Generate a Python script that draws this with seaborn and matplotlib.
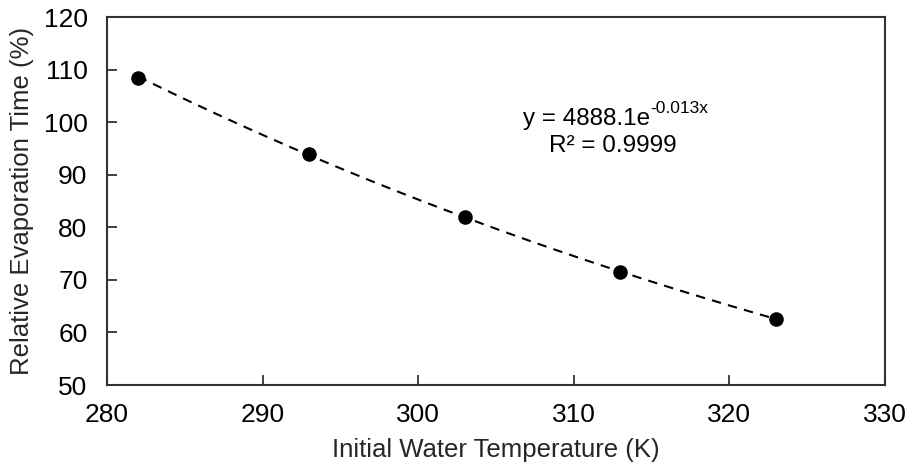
import numpy as np
import pandas as pd
import matplotlib
matplotlib.use("Agg")
import matplotlib.pyplot as plt
import seaborn as sns

# Data
temperature_k = [282, 293, 303, 313, 323]
relative_time_pct = [108.4, 94.0, 82.0, 71.5, 62.5]
x_ticks = [280, 290, 300, 310, 320, 330]
y_ticks = [50, 60, 70, 80, 90, 100, 110, 120]
equation_base = "y = 4888.1e"
equation_exp = "-0.013x"
r2_text = "R² = 0.9999"

sns.set_theme(style="white")
plt.rcParams["font.family"] = ["Liberation Sans", "DejaVu Sans"]

df = pd.DataFrame({"T": temperature_k, "t": relative_time_pct})

# Exponential trendline fitted to the data
b, a = np.polyfit(df["T"], np.log(df["t"]), 1)
xf = np.linspace(min(temperature_k), max(temperature_k), 200)
fit = pd.DataFrame({"T": xf, "t": np.exp(a) * np.exp(b * xf)})

fig = plt.figure(figsize=(9.09, 4.65), dpi=100)
ax = fig.add_axes([0.1177, 0.172, 0.8559, 0.7914])

sns.lineplot(data=fit, x="T", y="t", ax=ax, color="black", linewidth=1.5,
             linestyle=(0, (4.5, 3.5)))
sns.scatterplot(data=df, x="T", y="t", ax=ax, color="black", s=110,
                edgecolor="black", linewidth=0, zorder=3)

ax.set_xlim(280, 330)
ax.set_ylim(50, 120)
ax.set_xticks(x_ticks)
ax.set_yticks(y_ticks)
ax.tick_params(axis="both", which="major", bottom=True, left=True, top=False, right=False,
               direction="in", length=7, width=1.3, color="#333333",
               labelsize=19, labelcolor="black")
ax.tick_params(axis="x", pad=13)
ax.tick_params(axis="y", pad=14)
for s in ax.spines.values():
    s.set_color("#333333")
    s.set_linewidth(1.5)

ax.set_xlabel("Initial Water Temperature (K)", fontsize=18.5, labelpad=8)
ax.set_ylabel("Relative Evaporation Time (%)", fontsize=18.5, labelpad=7)

t1 = ax.text(310.85, 100.6, equation_base, fontsize=17.5, ha="center", va="center",
             color="black")
ax.annotate(equation_exp, xy=(1.0, 0.62), xycoords=t1, fontsize=12.5,
            ha="left", va="bottom", color="black")
ax.text(312.5, 95.4, r2_text, fontsize=17.5, ha="center", va="center", color="black")

fig.savefig("out.png", dpi=100)
